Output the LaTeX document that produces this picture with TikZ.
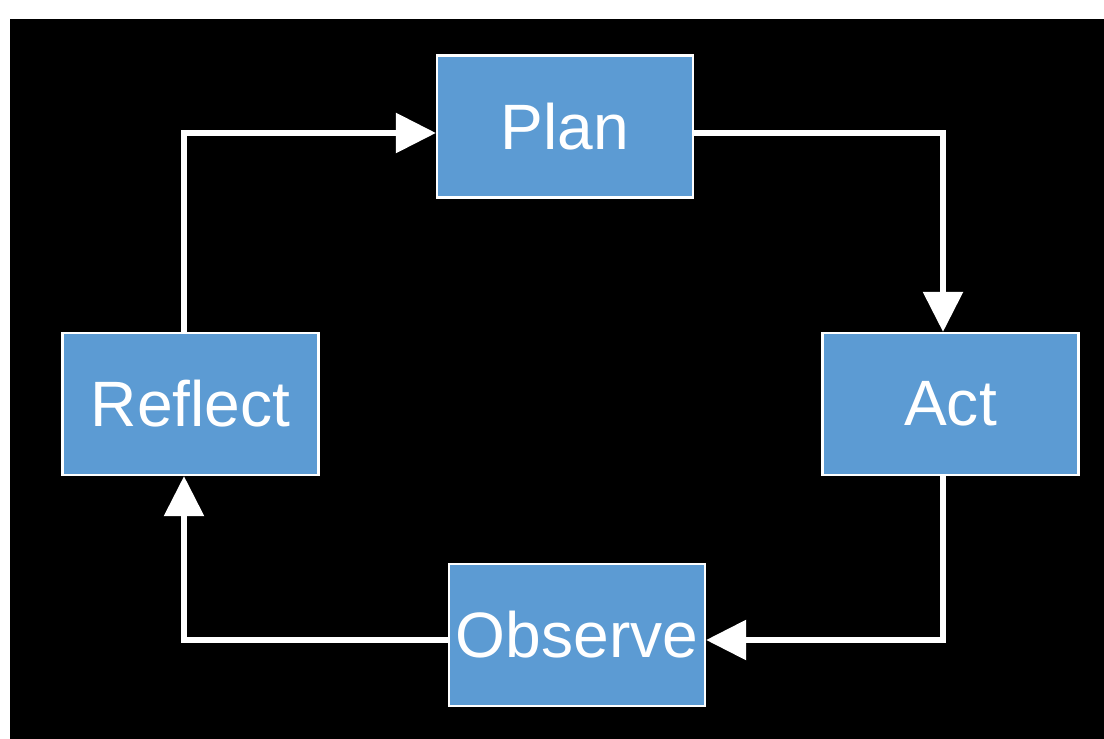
\documentclass[tikz,border=0pt]{standalone}
\usepackage{fontspec}
\setmainfont{Liberation Sans}
\usetikzlibrary{arrows.meta}
\definecolor{boxblue}{RGB}{92,155,211}
\tikzset{
  stage/.style={draw=white, line width=0.045cm, fill=boxblue, minimum width=5.12cm,
    minimum height=2.84cm, inner sep=0pt, text=white, font=\fontsize{36.5}{40}\selectfont},
  flow/.style={draw=white, line width=0.115cm, -{Triangle[length=0.8cm, width=0.78cm]}}
}

\begin{document}
\begin{tikzpicture}[x=0.02cm, y=-0.02cm]
  %%%%% START %%%%%

  \useasboundingbox (0,0) rectangle (1104,739);
  \fill[white] (0,0) rectangle (1104,739);
  \fill[black] (10,19) rectangle (1104,739);

  \node[stage] (plan) at (565,126.5) {Plan};
  \node[stage] (act) at (950.5,404) {Act};
  \node[stage] (observe) at (577,635) {Observe};
  \node[stage] (reflect) at (190.5,404) {Reflect};

  \coordinate (nw) at (184,133);
  \coordinate (ne) at (943,133);
  \coordinate (se) at (943,640);
  \coordinate (sw) at (184,640);

  \draw[flow] (reflect.north -| nw) |- (plan.west |- nw);
  \draw[flow] (plan.east |- ne) -| (act.north -| ne);
  \draw[flow] (act.south -| se) |- (observe.east |- se);
  \draw[flow] (observe.west |- sw) -| (reflect.south -| sw);

  %%%%% END %%%%%
\end{tikzpicture}
\end{document}
